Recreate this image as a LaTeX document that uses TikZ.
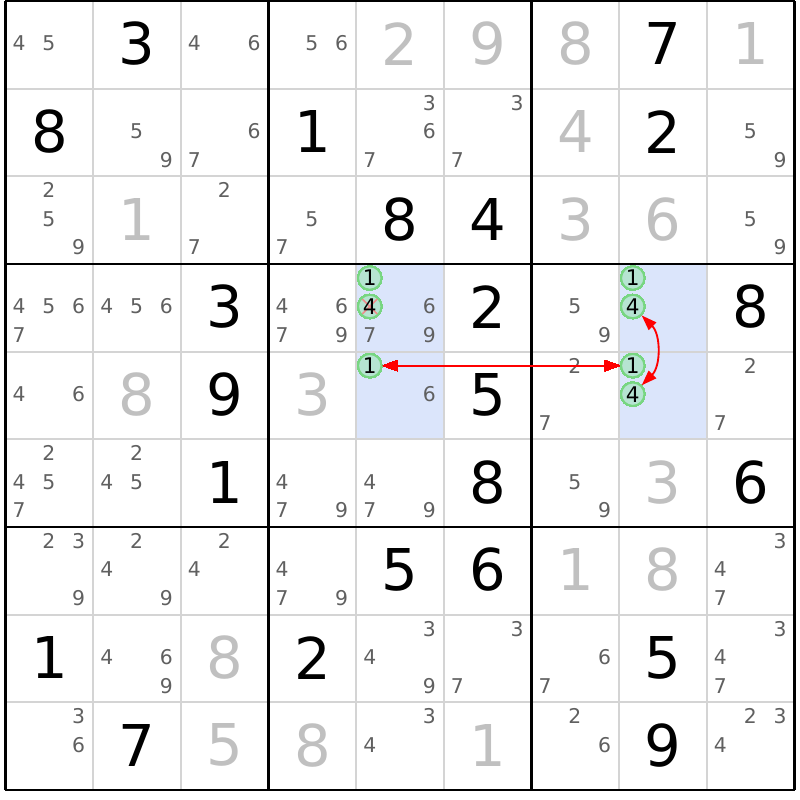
\documentclass[tikz,border=0pt]{standalone}
\usepackage{fontspec}
\setmainfont{DejaVu Sans}
\usetikzlibrary{arrows.meta}
\definecolor{candgrey}{RGB}{96,96,96}
\definecolor{solvedgrey}{RGB}{192,192,192}
\definecolor{thingrid}{RGB}{212,212,212}
\definecolor{hlblue}{RGB}{219,229,251}
\definecolor{ringfill}{RGB}{182,228,210}
\definecolor{ringline}{RGB}{120,214,130}
\definecolor{crossred}{RGB}{240,140,140}
\tikzset{
  clue/.style={inner sep=0pt, font=\fontsize{18.7}{20}\selectfont, text=black},
  solved/.style={inner sep=0pt, font=\fontsize{18.7}{20}\selectfont, text=solvedgrey},
  cand/.style={inner sep=0pt, font=\fontsize{6.6}{7}\selectfont, text=candgrey},
  ring/.style={circle, inner sep=0pt, minimum size=0.265cm, fill=ringfill, draw=ringline, line width=0.6pt, font=\fontsize{7}{7}\selectfont, text=black},
  struck/.style={path picture={\draw[crossred, line width=0.5pt] (path picture bounding box.north west) -- (path picture bounding box.south east) (path picture bounding box.north east) -- (path picture bounding box.south west);}},
  link/.style={red, line width=0.6pt, {Triangle[length=5pt,width=3.4pt]}-{Triangle[length=5pt,width=3.4pt]}}
}
\newcommand\cand[4]{%
  \pgfmathsetmacro\px{#3-1+0.155+0.34*mod(#4-1,3)}%
  \pgfmathsetmacro\py{#2-1+0.16+0.325*int((#4-1)/3)}%
  \node[#1] (k#2#3#4) at (\px,\py) {#4};}

\begin{document}
\begin{tikzpicture}[x=1cm, y=-1cm]
		\useasboundingbox[fill=white] (-0.0627,-0.0114) rectangle (9.0627,9.114);
		\foreach \r/\c in {4/5, 5/5, 4/8, 5/8}
			\fill[hlblue] (\c-1,\r-1) rectangle (\c,\r);
		\foreach \i in {1,2,4,5,7,8} {
			\draw[thingrid, line width=0.65pt] (\i,0) -- (\i,9);
			\draw[thingrid, line width=0.65pt] (0,\i) -- (9,\i);
		}
		\foreach \i in {0,3,6,9} {
			\draw[line width=0.9pt] (\i,0) -- (\i,9);
			\draw[line width=0.9pt] (0,\i) -- (9,\i);
		}
		\foreach \r/\c/\d in {1/2/3, 1/8/7, 2/1/8, 2/4/1, 2/8/2, 3/5/8, 3/6/4, 4/3/3, 4/6/2, 4/9/8, 5/3/9, 5/6/5, 6/3/1, 6/6/8, 6/9/6, 7/5/5, 7/6/6, 8/1/1, 8/4/2, 8/8/5, 9/2/7, 9/8/9}
			\node[clue] (g\r\c) at (\c-0.5,\r-0.51) {\d};
		\foreach \r/\c/\d in {1/5/2, 1/6/9, 1/7/8, 1/9/1, 2/7/4, 3/2/1, 3/7/3, 3/8/6, 5/2/8, 5/4/3, 6/8/3, 7/7/1, 7/8/8, 8/3/8, 9/3/5, 9/4/8, 9/6/1}
			\node[solved] (s\r\c) at (\c-0.5,\r-0.51) {\d};
		\foreach \r/\c/\l in {1/1/{4,5}, 1/3/{4,6}, 1/4/{5,6}, 2/2/{5,9}, 2/3/{6,7}, 2/5/{3,6,7}, 2/6/{3,7}, 2/9/{5,9}, 3/1/{2,5,9}, 3/3/{2,7}, 3/4/{5,7}, 3/9/{5,9}, 4/1/{4,5,6,7}, 4/2/{4,5,6}, 4/4/{4,6,7,9}, 4/5/{6,7,9}, 4/7/{5,9}, 5/1/{4,6}, 5/5/{6}, 5/7/{2,7}, 5/9/{2,7}, 6/1/{2,4,5,7}, 6/2/{2,4,5}, 6/4/{4,7,9}, 6/5/{4,7,9}, 6/7/{5,9}, 7/1/{2,3,9}, 7/2/{2,4,9}, 7/3/{2,4}, 7/4/{4,7,9}, 7/9/{3,4,7}, 8/2/{4,6,9}, 8/5/{3,4,9}, 8/6/{3,7}, 8/7/{6,7}, 8/9/{3,4,7}, 9/1/{3,6}, 9/5/{3,4}, 9/7/{2,6}, 9/9/{2,3,4}}
			\foreach \d in \l
				\cand{cand}{\r}{\c}{\d}
		\cand{ring}{4}{5}{1}
		\cand{ring,struck}{4}{5}{4}
		\cand{ring}{5}{5}{1}
		\cand{ring}{4}{8}{1}
		\cand{ring}{4}{8}{4}
		\cand{ring}{5}{8}{1}
		\cand{ring}{5}{8}{4}
		\draw[link] (k581) -- (k551);
		\draw[link] (k484) to[bend left=45] (k584);
\end{tikzpicture}
\end{document}
